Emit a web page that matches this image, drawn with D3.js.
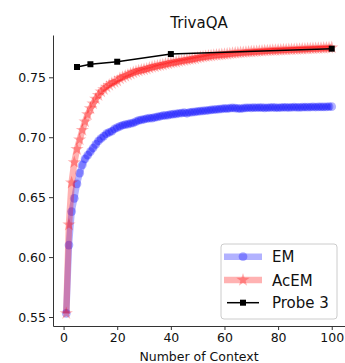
<!DOCTYPE html>
<html>
<head>
<meta charset="utf-8">
<script src="https://cdn.jsdelivr.net/npm/d3@7"></script>
<style>
  html, body { margin: 0; padding: 0; background: #fff; }
  svg { display: block; font-family: "DejaVu Sans", sans-serif; }
</style>
</head>
<body>
<svg id="chart" width="345" height="363"></svg>
<script>
// Number of retrieved contexts (1..100)
const contexts = d3.range(1, 101);

// Exact Match accuracy per number of contexts
const emValues = [
  0.553, 0.610, 0.638, 0.649, 0.661, 0.670, 0.677, 0.682, 0.685, 0.688,
  0.691, 0.694, 0.697, 0.699, 0.701, 0.703, 0.704, 0.705, 0.707, 0.708,
  0.709, 0.710, 0.7105, 0.711, 0.7115, 0.712, 0.713, 0.714, 0.7145, 0.715,
  0.7155, 0.716, 0.716, 0.7165, 0.717, 0.7175, 0.718, 0.7182, 0.7185, 0.719,
  0.7192, 0.7195, 0.720, 0.7202, 0.7205, 0.7200, 0.7208, 0.721, 0.7212, 0.7215,
  0.7218, 0.722, 0.7222, 0.7225, 0.7228, 0.723, 0.7232, 0.7235, 0.7237, 0.724,
  0.7238, 0.7242, 0.7245, 0.7243, 0.7240, 0.7238, 0.7242, 0.7244, 0.7246, 0.7245,
  0.7247, 0.7246, 0.7248, 0.7247, 0.7245, 0.7246, 0.7248, 0.7249, 0.7247, 0.7246,
  0.7248, 0.7250, 0.7249, 0.7248, 0.7250, 0.7251, 0.7250, 0.7249, 0.7251, 0.7252,
  0.7251, 0.7252, 0.7253, 0.7252, 0.7253, 0.7254, 0.7253, 0.7254, 0.7255, 0.7255
];

// Accuracy-based EM per number of contexts
const acemValues = [
  0.553, 0.627, 0.662, 0.679, 0.690, 0.698, 0.706, 0.713, 0.719, 0.724,
  0.728, 0.732, 0.735, 0.738, 0.740, 0.742, 0.7435, 0.745, 0.746, 0.747,
  0.749, 0.750, 0.751, 0.752, 0.753, 0.754, 0.7548, 0.7555, 0.756, 0.7565,
  0.757, 0.7578, 0.7585, 0.759, 0.7595, 0.760, 0.7605, 0.761, 0.7615, 0.762,
  0.7624, 0.7628, 0.7633, 0.7637, 0.7641, 0.7645, 0.7649, 0.7653, 0.7657, 0.7662,
  0.7667, 0.7670, 0.7674, 0.7677, 0.7680, 0.7683, 0.7686, 0.7688, 0.7690, 0.7692,
  0.7694, 0.7697, 0.7700, 0.7702, 0.7704, 0.7706, 0.7708, 0.7710, 0.7712, 0.7713,
  0.7715, 0.7716, 0.7718, 0.7719, 0.7721, 0.7722, 0.7724, 0.7725, 0.7726, 0.7727,
  0.7728, 0.7729, 0.7730, 0.7731, 0.7732, 0.7733, 0.7734, 0.7735, 0.7736, 0.7737,
  0.7738, 0.7739, 0.7740, 0.7741, 0.7742, 0.7743, 0.7744, 0.7745, 0.7746, 0.7748
];

// Probe 3 evaluated at a few context counts
const probeContexts = [5, 10, 20, 40, 100];
const probeValues = [0.7586, 0.7609, 0.7630, 0.7694, 0.7739];

const xTicks = [0, 20, 40, 60, 80, 100];
const yTicks = [0.55, 0.60, 0.65, 0.70, 0.75];

const title = "TrivaQA";
const xLabel = "Number of Context";
const seriesNames = ["EM", "AcEM", "Probe 3"];

const svg = d3.select("#chart");
const plotLeft = 53, plotRight = 345, plotTop = 35, plotBottom = 326;

const x = d3.scaleLinear().domain([-3.95, 104.95]).range([plotLeft, plotRight]);
const y = d3.scaleLinear().domain([0.5425, 0.7853]).range([plotBottom, plotTop]);

const axisColor = "#333";
const fontSize = 12.5;

// Axes
const xAxis = svg.append("g")
  .attr("transform", `translate(0,${plotBottom})`)
  .call(d3.axisBottom(x).tickValues(xTicks).tickSize(4).tickPadding(3).tickSizeOuter(0));
const yAxis = svg.append("g")
  .attr("transform", `translate(${plotLeft},0)`)
  .call(d3.axisLeft(y).tickValues(yTicks).tickFormat(d3.format(".2f")).tickSize(4).tickPadding(3).tickSizeOuter(0));

[xAxis, yAxis].forEach(g => {
  g.select(".domain").attr("stroke", axisColor).attr("stroke-width", 1);
  g.selectAll(".tick line").attr("stroke", axisColor).attr("stroke-width", 1);
  g.selectAll(".tick text").attr("fill", "#111").style("font-size", fontSize + "px")
    .style("font-family", "DejaVu Sans");
});

// Series drawing
const lineGen = (xs, ys) => d3.line().x((d, i) => x(xs[i])).y((d, i) => y(ys[i]))(ys);

function drawSeries(ys, color, symbol, size) {
  const g = svg.append("g");
  g.append("path")
    .attr("d", lineGen(contexts, ys))
    .attr("fill", "none")
    .attr("stroke", color)
    .attr("stroke-opacity", 0.3)
    .attr("stroke-width", 6.5)
    .attr("stroke-linejoin", "round");
  g.selectAll("path.m").data(ys).enter().append("path")
    .attr("class", "m")
    .attr("d", d3.symbol().type(symbol).size(size)())
    .attr("transform", (d, i) => `translate(${x(contexts[i])},${y(d)})`)
    .attr("fill", color)
    .attr("fill-opacity", 0.3);
}

const circleSize = 60, starSize = 55;
drawSeries(emValues, "#0000ff", d3.symbolCircle, circleSize);
drawSeries(acemValues, "#ff0000", d3.symbolStar, starSize);

// Probe 3
svg.append("path")
  .attr("d", lineGen(probeContexts, probeValues))
  .attr("fill", "none")
  .attr("stroke", "#000")
  .attr("stroke-width", 1.5);
svg.selectAll("rect.probe").data(probeValues).enter().append("rect")
  .attr("class", "probe")
  .attr("x", (d, i) => x(probeContexts[i]) - 3)
  .attr("y", d => y(d) - 3)
  .attr("width", 6).attr("height", 6)
  .attr("fill", "#000");

// Title and axis label
svg.append("text")
  .attr("x", (plotLeft + plotRight) / 2).attr("y", 28)
  .attr("text-anchor", "middle")
  .style("font-size", "15px").attr("fill", "#111")
  .text(title);
svg.append("text")
  .attr("x", (plotLeft + plotRight) / 2).attr("y", 361)
  .attr("text-anchor", "middle")
  .style("font-size", fontSize + "px").attr("fill", "#111")
  .text(xLabel);

// Legend
const lg = svg.append("g").attr("transform", "translate(221,244)");
lg.append("rect")
  .attr("width", 116).attr("height", 75)
  .attr("rx", 3).attr("ry", 3)
  .attr("fill", "#fff").attr("fill-opacity", 0.8)
  .attr("stroke", "#ccc").attr("stroke-width", 1);

const rows = [12.7, 36, 58.7];
// EM
lg.append("line").attr("x1", 3).attr("x2", 41).attr("y1", rows[0]).attr("y2", rows[0])
  .attr("stroke", "#0000ff").attr("stroke-opacity", 0.3).attr("stroke-width", 6.5);
lg.append("path").attr("d", d3.symbol().type(d3.symbolCircle).size(circleSize)())
  .attr("transform", `translate(22,${rows[0]})`).attr("fill", "#0000ff").attr("fill-opacity", 0.3);
// AcEM
lg.append("line").attr("x1", 3).attr("x2", 41).attr("y1", rows[1]).attr("y2", rows[1])
  .attr("stroke", "#ff0000").attr("stroke-opacity", 0.3).attr("stroke-width", 6.5);
lg.append("path").attr("d", d3.symbol().type(d3.symbolStar).size(starSize)())
  .attr("transform", `translate(22,${rows[1]})`).attr("fill", "#ff0000").attr("fill-opacity", 0.3);
// Probe 3
lg.append("line").attr("x1", 6).attr("x2", 38).attr("y1", rows[2]).attr("y2", rows[2])
  .attr("stroke", "#000").attr("stroke-width", 1.5);
lg.append("rect").attr("x", 19).attr("y", rows[2] - 3).attr("width", 6).attr("height", 6).attr("fill", "#000");

lg.selectAll("text.lab").data(seriesNames).enter().append("text")
  .attr("class", "lab")
  .attr("x", 51).attr("y", (d, i) => rows[i] + 5.5)
  .style("font-size", "15px").attr("fill", "#111")
  .text(d => d);
</script>
</body>
</html>
